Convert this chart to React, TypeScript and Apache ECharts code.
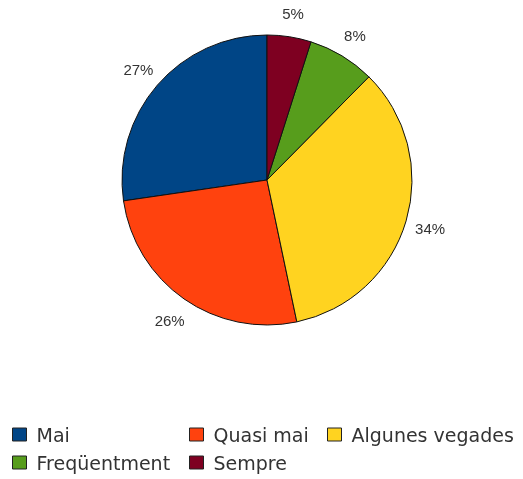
import React, { useEffect, useRef } from "react";
import * as echarts from "echarts";

const categories = ["Mai", "Quasi mai", "Algunes vegades", "Freqüentment", "Sempre"];
const values = [27.3, 26.0, 34.3, 7.5, 4.9];
const colors = ["#004586", "#ff420e", "#ffd320", "#579d1c", "#7e0021"];
const legendPositions = [
  { left: 12, top: 425 },
  { left: 189, top: 425 },
  { left: 327, top: 425 },
  { left: 12, top: 453 },
  { left: 189, top: 453 },
];

export default function App() {
  const ref = useRef<HTMLDivElement>(null);
  useEffect(() => {
    if (!ref.current) return;
    const chart = echarts.init(ref.current, null, { renderer: "svg" });
    const data = categories.map((name, i) => ({
      name,
      value: values[i],
      itemStyle: { color: colors[i] },
    }));
    chart.setOption({
      animation: false,
      textStyle: { fontFamily: "Liberation Sans, Arial, sans-serif" },
      legend: categories.map((name, i) => ({
        data: [name],
        left: legendPositions[i].left,
        top: legendPositions[i].top,
        padding: 0,
        itemWidth: 14,
        itemHeight: 13,
        itemGap: 10,
        icon: "rect",
        selectedMode: false,
        itemStyle: { borderColor: "#222", borderWidth: 1 },
        textStyle: { fontSize: 19, color: "#333", fontFamily: "DejaVu Sans, sans-serif", padding: [0, 0, 0, 5] },
      })),
      series: [
        {
          type: "pie",
          center: [267, 180],
          radius: 145,
          startAngle: 90,
          clockwise: false,
          data,
          label: { show: false },
          labelLine: { show: false },
          itemStyle: { borderColor: "#111", borderWidth: 1 },
          emphasis: { disabled: true },
        },
        {
          type: "pie",
          center: [267, 181],
          radius: [154, 180],
          startAngle: 90,
          clockwise: false,
          silent: true,
          percentPrecision: 0,
          data: categories.map((name, i) => ({ name, value: values[i] })),
          itemStyle: { color: "rgba(0,0,0,0)", borderWidth: 0 },
          label: {
            show: true,
            position: "inside",
            rotate: 0,
            formatter: "{d}%",
            fontSize: 15,
            color: "#333",
            fontFamily: "Liberation Sans, Arial, sans-serif",
          },
          labelLine: { show: false },
          emphasis: { disabled: true },
          legendHoverLink: false,
        },
      ],
    });
    return () => chart.dispose();
  }, []);
  return <div ref={ref} style={{ position: "fixed", left: 0, top: 0, width: 523, height: 479 }} />;
}
